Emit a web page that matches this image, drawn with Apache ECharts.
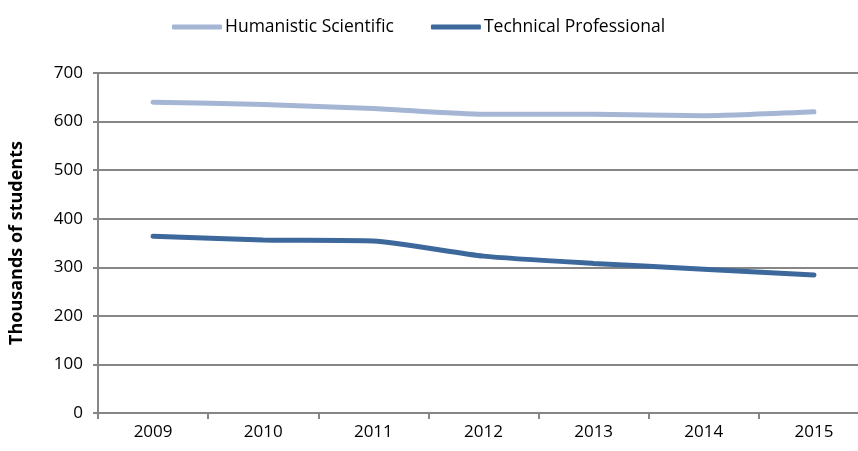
<!DOCTYPE html>
<html>
<head>
<meta charset="utf-8">
<script src="https://cdn.jsdelivr.net/npm/echarts@6/dist/echarts.min.js"></script>
<style>
  html, body { margin: 0; padding: 0; background: #fff; overflow: hidden; }
  /* plot area runs past the right edge of the window, as in the reference */
  #chart { width: 869px; height: 451px; }
</style>
</head>
<body>
<div id="chart"></div>
<script>
// years on the x axis
var years = ['2009', '2010', '2011', '2012', '2013', '2014', '2015'];
// thousands of students
var humanistic = [640, 635, 627, 615, 615, 612, 620];
var technical = [364, 356, 354, 323, 308, 296, 284];

var chart = echarts.init(document.getElementById('chart'));
var fontFam = '"Open Sans", "Liberation Sans", sans-serif';

chart.setOption({
  animation: false,
  backgroundColor: '#ffffff',
  textStyle: { fontFamily: fontFam },
  legend: {
    top: 13,
    left: 167,
    icon: 'roundRect',
    itemWidth: 50,
    itemHeight: 5,
    itemGap: 37,
    textStyle: { fontSize: 17.5, color: '#000', fontFamily: fontFam, padding: [0, 0, 0, -2] },
    data: ['Humanistic Scientific', 'Technical Professional']
  },
  grid: {
    left: 97,
    right: 0,
    top: 73,
    bottom: 38
  },
  xAxis: {
    type: 'category',
    data: years,
    boundaryGap: true,
    axisLine: { lineStyle: { color: '#868686', width: 2 } },
    axisTick: { show: true, length: 6, lineStyle: { color: '#868686', width: 2 } },
    axisLabel: { color: '#000', fontSize: 17, margin: 11, fontFamily: fontFam }
  },
  yAxis: {
    type: 'value',
    min: 0,
    max: 700,
    interval: 100,
    name: 'Thousands of students',
    nameLocation: 'middle',
    nameGap: 72,
    nameTextStyle: { fontWeight: 'bold', fontSize: 18, color: '#000', fontFamily: fontFam },
    axisLine: { show: true, lineStyle: { color: '#868686', width: 2 } },
    axisTick: { show: true, length: 5, lineStyle: { color: '#868686', width: 2 } },
    axisLabel: { color: '#000', fontSize: 17, margin: 15, fontFamily: fontFam },
    splitLine: { lineStyle: { color: '#868686', width: 2 } }
  },
  series: [
    {
      name: 'Humanistic Scientific',
      type: 'line',
      data: humanistic,
      symbol: 'none',
      smooth: 0.2,
      color: '#A5B6D4',
      lineStyle: { width: 5, color: '#A5B6D4', cap: 'round' }
    },
    {
      name: 'Technical Professional',
      type: 'line',
      data: technical,
      symbol: 'none',
      smooth: 0.2,
      color: '#3D689C',
      lineStyle: { width: 5, color: '#3D689C', cap: 'round' }
    }
  ]
});
</script>
</body>
</html>
